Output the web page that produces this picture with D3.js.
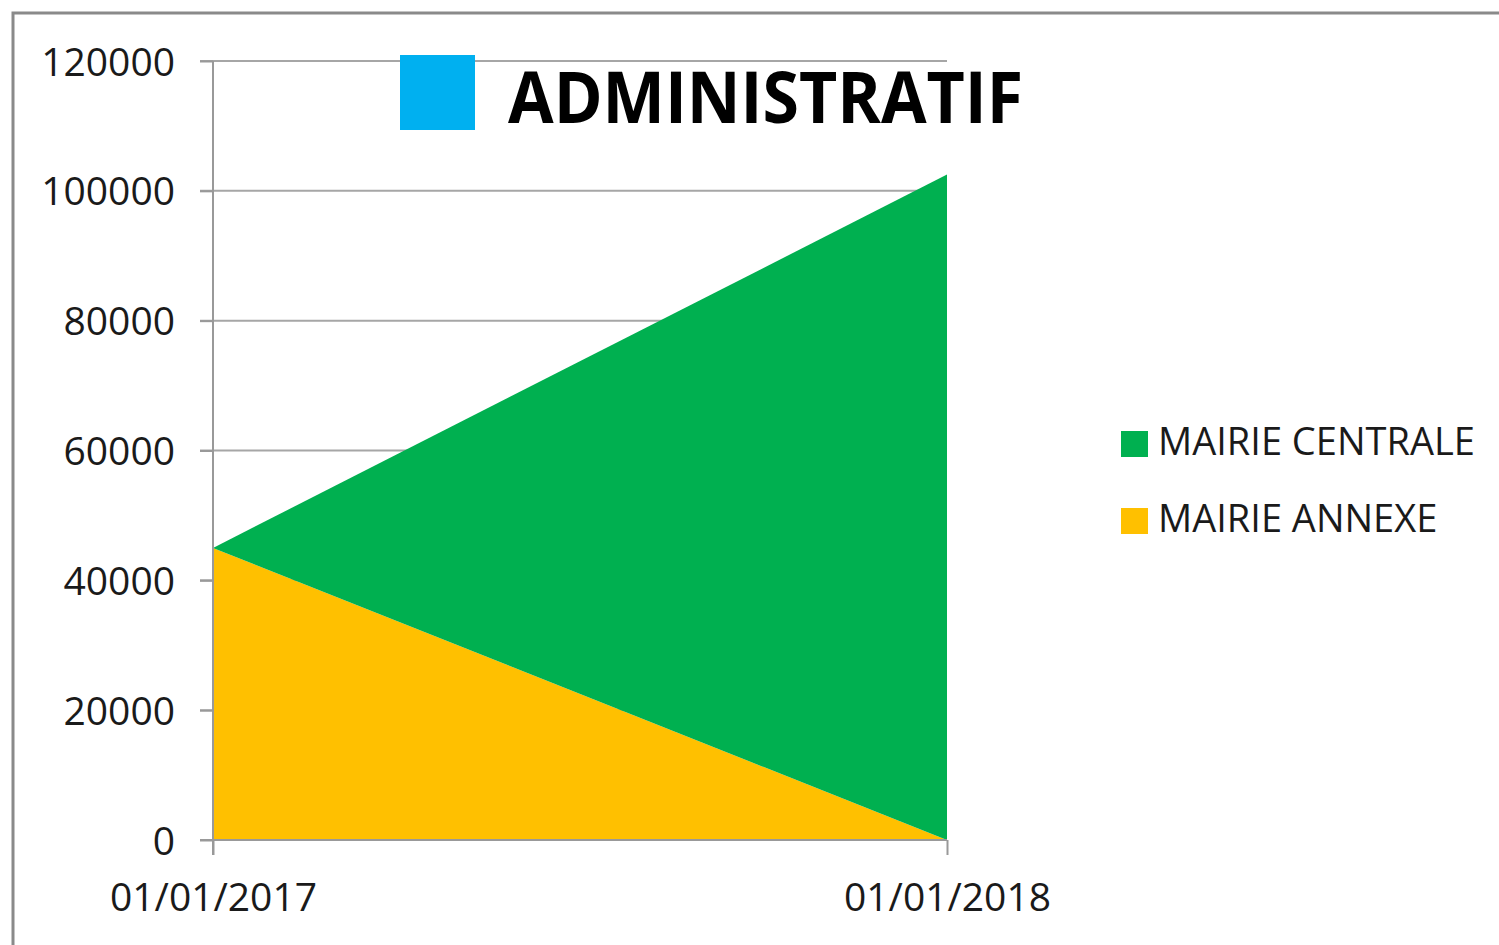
<!DOCTYPE html>
<html>
<head>
<meta charset="utf-8">
<script src="https://cdn.jsdelivr.net/npm/d3@7"></script>
<style>
  body { margin: 0; background: #fff; }
  svg { display: block; font-family: "Open Sans", sans-serif; }
</style>
</head>
<body>
<svg id="chart" width="1499" height="945"></svg>
<script>
// data
const dates = ['01/01/2017', '01/01/2018'];
const mairieAnnexe = [45000, 0];
const mairieCentrale = [0, 102500];
const yTicks = [0, 20000, 40000, 60000, 80000, 100000, 120000];
const seriesNames = ['MAIRIE CENTRALE', 'MAIRIE ANNEXE'];
const seriesColors = ['#00b050', '#ffc000'];
const title = 'ADMINISTRATIF';

const svg = d3.select('#chart');

// outer frame (only left/top visible)
svg.append('rect')
  .attr('x', 13).attr('y', 13)
  .attr('width', 1600).attr('height', 1000)
  .attr('fill', 'none')
  .attr('stroke', '#8a8a8a')
  .attr('stroke-width', 3);

const x = d3.scalePoint().domain(dates).range([213, 947]);
const y = d3.scaleLinear().domain([0, 120000]).range([840, 61]);

const rows = dates.map((d, i) => ({ date: d, annexe: mairieAnnexe[i], centrale: mairieCentrale[i] }));
const stacked = d3.stack().keys(['annexe', 'centrale'])(rows);

// gridlines
svg.append('g')
  .selectAll('line')
  .data(yTicks.filter(d => d > 0))
  .enter()
  .append('line')
  .attr('x1', 200).attr('x2', 947)
  .attr('y1', d => y(d)).attr('y2', d => y(d))
  .attr('stroke', '#a6a6a6')
  .attr('stroke-width', 2);

// areas
const area = d3.area()
  .x(d => x(d.data.date))
  .y0(d => y(d[0]))
  .y1(d => y(d[1]));

const colorOf = { annexe: seriesColors[1], centrale: seriesColors[0] };
svg.append('g')
  .selectAll('path')
  .data(stacked)
  .enter()
  .append('path')
  .attr('d', area)
  .attr('fill', d => colorOf[d.key]);

// y axis
const yAxis = svg.append('g')
  .attr('transform', 'translate(213,0)')
  .call(d3.axisLeft(y).tickValues(yTicks).tickSize(13).tickPadding(25).tickFormat(d3.format('d')));

// x axis
const xAxis = svg.append('g')
  .attr('transform', 'translate(0,840)')
  .call(d3.axisBottom(x).tickSize(15).tickPadding(28));

[yAxis, xAxis].forEach(a => {
  a.select('.domain').attr('stroke', '#999').attr('stroke-width', 2);
  a.selectAll('.tick line').attr('stroke', '#999').attr('stroke-width', 2);
  a.selectAll('.tick text')
    .attr('fill', '#1a1a1a')
    .style('font-size', '39px')
    .style('font-family', '"Open Sans", sans-serif');
});
yAxis.select('.domain').attr('d', 'M0,61V855');
xAxis.select('.domain').attr('d', 'M200,0H947');
yAxis.selectAll('.tick text').attr('dy', '0.36em');

// title
svg.append('rect')
  .attr('x', 400).attr('y', 55)
  .attr('width', 75).attr('height', 75)
  .attr('fill', '#00b0f0');
svg.append('text')
  .attr('x', 508).attr('y', 123)
  .attr('textLength', 515)
  .attr('lengthAdjust', 'spacingAndGlyphs')
  .style('font-size', '72px')
  .style('font-weight', 'bold')
  .attr('fill', '#000')
  .text(title);

// legend
const legend = svg.append('g')
  .selectAll('g')
  .data(seriesNames)
  .enter()
  .append('g')
  .attr('transform', (d, i) => `translate(1121,${431 + i * 77})`);

legend.append('rect')
  .attr('width', 27).attr('height', 26)
  .attr('fill', (d, i) => seriesColors[i]);

legend.append('text')
  .attr('x', 37).attr('y', 24)
  .style('font-size', '38px')
  .attr('fill', '#1a1a1a')
  .text(d => d);
</script>
</body>
</html>
